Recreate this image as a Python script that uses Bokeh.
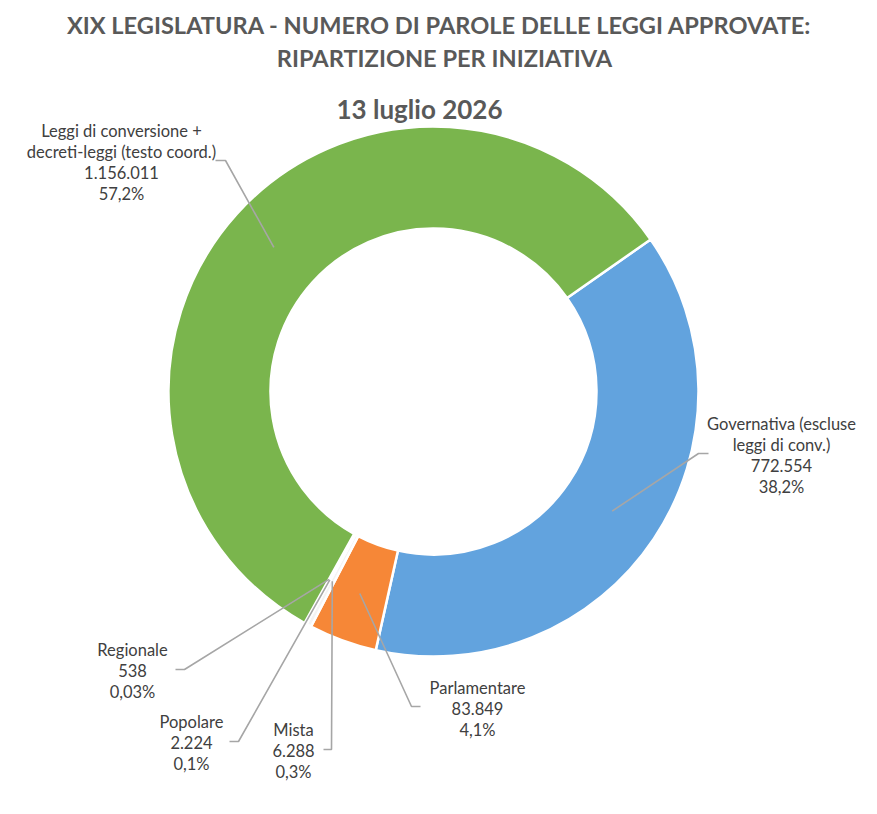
import math
from bokeh.plotting import figure
from bokeh.models import Range1d, ColumnDataSource
from bokeh.core.properties import value
from bokeh.embed import file_html
from bokeh.resources import INLINE

# ---- data ----
categories = ["Governativa (escluse\nleggi di conv.)", "Parlamentare", "Mista", "Popolare",
              "Regionale", "Leggi di conversione +\ndecreti-leggi (testo coord.)"]
words = [772554, 83849, 6288, 2224, 538, 1156011]
pct_labels = ["38,2%", "4,1%", "0,3%", "0,1%", "0,03%", "57,2%"]
colors = ["#62A3DE", "#F68737", "#F4F4F4", "#F4F4F4", "#F4F4F4", "#7AB54D"]

title_lines = ["XIX LEGISLATURA - NUMERO DI PAROLE DELLE LEGGI APPROVATE:",
               "RIPARTIZIONE PER INIZIATIVA"]
date_text = "13 luglio 2026"

# ---- layout (screen pixels) ----
W, H = 861, 798
CX, CY = 433, 391
R_OUT, R_IN = 265, 163
FIRST_ANGLE = 55.0  # degrees clockwise from 12 o'clock

# label block centers and leader elbows/ends, per category
label_pos = [(781, 455), (477, 708), (293, 750), (191, 742), (132, 670), (121, 162)]
elbow = [(698, 453), (411, 706), (331, 749), (238, 741), (184, 669), (225, 160)]
stub = [(708, 453), (420, 706), (323, 749), (229, 741), (175, 669), (215, 160)]

FONT = "Lato"


def Y(y):
    return -y


p = figure(width=W, height=H, x_range=Range1d(0, W), y_range=Range1d(-H, 0),
           x_axis_type=None, y_axis_type=None, toolbar_location=None,
           output_backend="svg", min_border=0)
p.outline_line_color = None
p.grid.visible = False
p.background_fill_color = "white"

total = sum(words)
starts, ends, mids = [], [], []
acc = FIRST_ANGLE
for w in words:
    span = 360.0 * w / total
    starts.append(acc)
    ends.append(acc + span)
    mids.append(acc + span / 2)
    acc += span

to_bk = lambda deg: math.radians(90.0 - deg)

src = ColumnDataSource(dict(
    x=[CX] * len(words), y=[Y(CY)] * len(words),
    start=[to_bk(a) for a in starts], end=[to_bk(a) for a in ends],
    color=colors))
p.annular_wedge(x="x", y="y", inner_radius=R_IN, outer_radius=R_OUT,
                start_angle="start", end_angle="end", direction="clock",
                fill_color="color", line_color="white", line_width=2.5, source=src)

# leader lines
r_mid = (R_IN + R_OUT) / 2 + 1
xs, ys = [], []
for i, m in enumerate(mids):
    ax = CX + r_mid * math.sin(math.radians(m))
    ay = CY - r_mid * math.cos(math.radians(m))
    xs.append([ax, elbow[i][0], stub[i][0]])
    ys.append([Y(ay), Y(elbow[i][1]), Y(stub[i][1])])
p.multi_line(xs=xs, ys=ys, line_color="#A6A6A6", line_width=1.6)

# labels
fmt = lambda v: f"{v:,}".replace(",", ".")
texts = [f"{c}\n{fmt(w)}\n{pc}" for c, w, pc in zip(categories, words, pct_labels)]
p.text(x=[lp[0] for lp in label_pos], y=[Y(lp[1]) for lp in label_pos], text=texts,
       text_align="center", text_baseline="middle", text_font=value(FONT),
       text_font_size="16.5px", text_color="#404040", text_line_height=1.05)

# titles
p.text(x=[439, 444], y=[Y(24), Y(57)], text=title_lines, text_align="center",
       text_baseline="middle", text_font=value(FONT), text_font_style="bold",
       text_font_size="23.6px", text_color="#595959")
p.text(x=[419], y=[Y(108)], text=[date_text], text_align="center",
       text_baseline="middle", text_font=value(FONT), text_font_style="bold",
       text_font_size="26px", text_color="#595959")

open("out.html", "w").write(file_html(p, INLINE))
